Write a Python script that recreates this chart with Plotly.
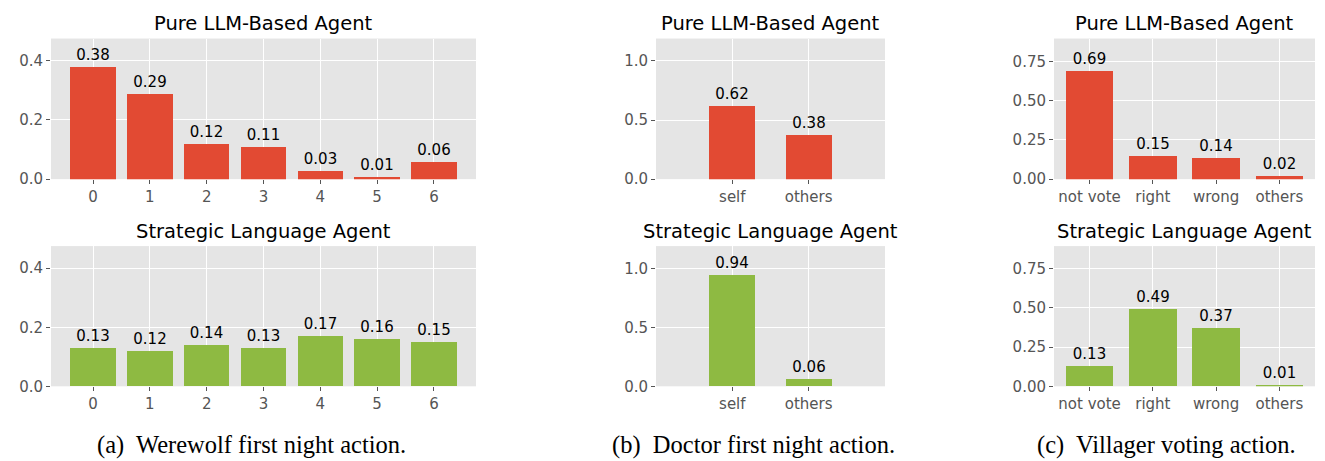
import plotly.graph_objects as go

# ---- data ----
ww_cats = ["0", "1", "2", "3", "4", "5", "6"]
ww_pure = [0.38, 0.29, 0.12, 0.11, 0.03, 0.01, 0.06]
ww_sla = [0.13, 0.12, 0.14, 0.13, 0.17, 0.16, 0.15]

doc_cats = ["self", "others"]
doc_pure = [0.62, 0.38]
doc_sla = [0.94, 0.06]

vil_cats = ["not vote", "right", "wrong", "others"]
vil_pure = [0.69, 0.15, 0.14, 0.02]
vil_sla = [0.13, 0.49, 0.37, 0.01]

row_titles = ["Pure LLM-Based Agent", "Strategic Language Agent"]
captions = ["(a)\u00a0 Werewolf first night action.",
            "(b)\u00a0 Doctor first night action.",
            "(c)\u00a0 Villager voting action."]

RED = "#E24A33"
GREEN = "#8EBA42"
W, H = 1325, 461

# panel geometry (pixels)
cols = [
    dict(cats=ww_cats, vals=(ww_pure, ww_sla), x0=51, x1=476, xr=[-0.74, 6.74], bw=0.8,
         yr=[0, 0.475], dtick=0.2, fmt=".1f", cap_x=251),
    dict(cats=doc_cats, vals=(doc_pure, doc_sla), x0=656, x1=885, xr=[-1.0, 2.0], bw=0.6,
         yr=[0, 1.19], dtick=0.5, fmt=".1f", cap_x=753),
    dict(cats=vil_cats, vals=(vil_pure, vil_sla), x0=1054, x1=1315, xr=[-0.5625, 3.5625], bw=0.75,
         yr=[0, 0.895], dtick=0.25, fmt=".2f", cap_x=1166),
]
rows = [(39.3, 182.7), (251, 394)]
row_colors = [RED, GREEN]
title_y = [24, 236]

fig = go.Figure()
annotations = []
FONT = "DejaVu Sans"
idx = 0
for ci, c in enumerate(cols):
    for ri, (top, bot) in enumerate(rows):
        idx += 1
        xa = "x" if idx == 1 else f"x{idx}"
        ya = "y" if idx == 1 else f"y{idx}"
        vals = c["vals"][ri]
        xs = list(range(len(c["cats"])))
        fig.add_trace(go.Bar(
            x=xs, y=vals, width=c["bw"], marker=dict(color=row_colors[ri], line=dict(width=0)),
            text=[f"{v:.2f}" for v in vals], textposition="outside",
            textfont=dict(family=FONT, size=15, color="black"),
            cliponaxis=False, xaxis=xa, yaxis=ya, showlegend=False, hoverinfo="skip",
        ))
        xkey = "xaxis" if idx == 1 else f"xaxis{idx}"
        ykey = "yaxis" if idx == 1 else f"yaxis{idx}"
        fig.layout[xkey] = dict(
            domain=[c["x0"] / W, c["x1"] / W], anchor=ya, range=c["xr"],
            tickvals=xs, ticktext=c["cats"], showgrid=True, gridcolor="white", gridwidth=1,
            zeroline=False, ticks="outside", ticklen=4, tickcolor="#555555", tickwidth=1,
            tickfont=dict(family=FONT, size=15, color="#555555"), showline=False, fixedrange=True,
        )
        fig.layout[ykey] = dict(
            domain=[1 - bot / H, 1 - top / H], anchor=xa, range=c["yr"],
            tick0=0, dtick=c["dtick"], tickformat=c["fmt"], showgrid=True, gridcolor="white",
            gridwidth=1, zeroline=False, ticks="outside", ticklen=4, tickcolor="#555555",
            tickwidth=1, tickfont=dict(family=FONT, size=15, color="#555555"), showline=False,
            fixedrange=True,
        )
        annotations.append(dict(
            text=row_titles[ri], x=(c["x0"] + c["x1"]) / 2 / W, y=1 - title_y[ri] / H,
            xref="paper", yref="paper", xanchor="center", yanchor="middle", showarrow=False,
            font=dict(family=FONT, size=19.5, color="black"),
        ))
    annotations.append(dict(
        text=captions[ci], x=c["cap_x"] / W, y=1 - 454 / H, xref="paper", yref="paper",
        xanchor="center", yanchor="middle", showarrow=False,
        font=dict(family="Liberation Serif", size=24.5, color="black"),
    ))

fig.update_layout(
    width=W, height=H, margin=dict(l=0, r=0, t=0, b=0),
    paper_bgcolor="white", plot_bgcolor="#E5E5E5", annotations=annotations, bargap=0,
)
fig.write_html("out.html", config={"displayModeBar": False})
